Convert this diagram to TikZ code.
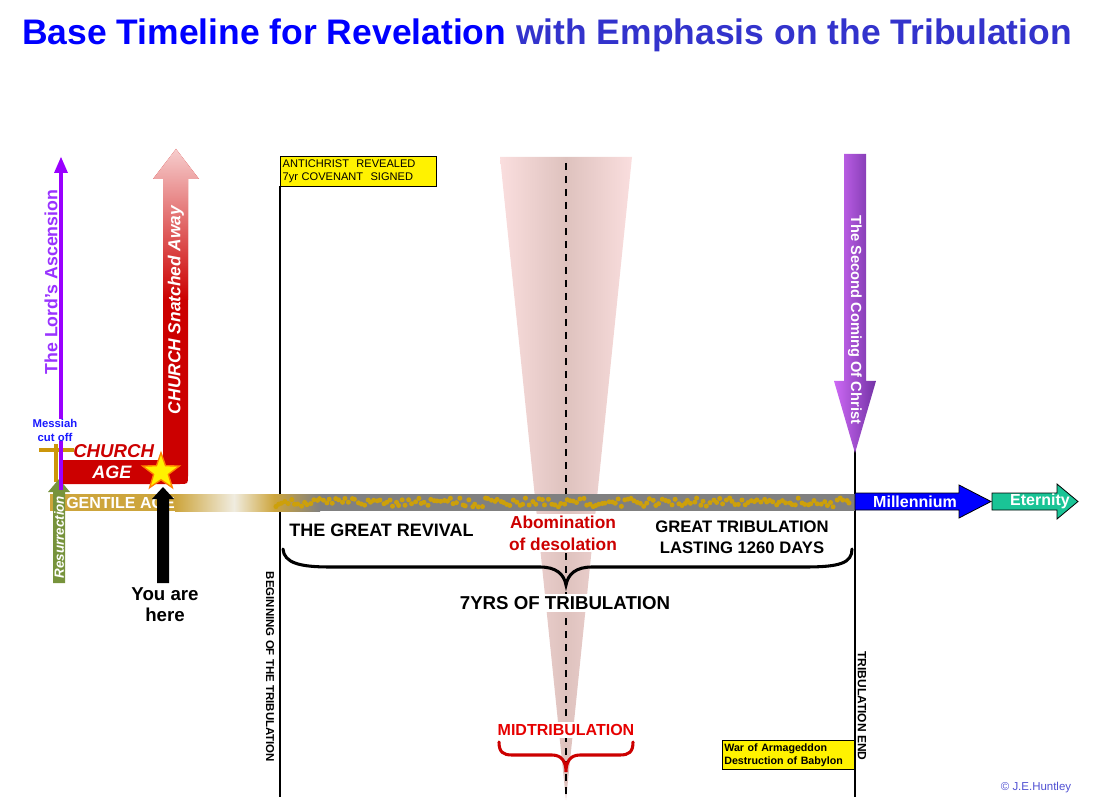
\documentclass[tikz,border=0pt]{standalone}
\usepackage{fontspec}
\setmainfont{Liberation Sans}
\usetikzlibrary{shapes.geometric}
\definecolor{titleblue}{RGB}{0,0,255}
\definecolor{titleblue2}{RGB}{51,51,204}
\definecolor{churchred}{RGB}{204,0,0}
\definecolor{churchpink}{RGB}{246,205,205}
\definecolor{gold}{RGB}{205,165,60}
\definecolor{pale}{RGB}{240,236,224}
\definecolor{bargray}{RGB}{128,128,128}
\definecolor{dotgold}{RGB}{205,160,10}
\definecolor{crossgold}{RGB}{204,150,10}
\definecolor{ascpurple}{RGB}{153,0,255}
\definecolor{asctext}{RGB}{153,51,255}
\definecolor{resgreen}{RGB}{119,147,60}
\definecolor{conepink}{RGB}{250,222,222}
\definecolor{conemid}{RGB}{222,194,190}
\definecolor{scl}{RGB}{205,105,245}
\definecolor{scr}{RGB}{115,50,165}
\definecolor{etgreen}{RGB}{26,196,150}
\definecolor{messblue}{RGB}{26,26,255}
\definecolor{abred}{RGB}{204,0,0}
\definecolor{midred}{RGB}{230,0,0}
\definecolor{copyblue}{RGB}{80,80,210}
\begin{document}
\begin{tikzpicture}[x=0.75pt,y=-0.75pt,
  lbl/.style={inner sep=0pt, align=center},
  whitebg/.style={fill=white, inner sep=1.5pt, align=center},
  ybox/.style={draw, line width=1pt, fill=yellow, inner sep=1pt, align=left},
  vline/.style={line width=1.1pt},
  bracepen/.style={line width=2.3pt, line cap=round}]
\useasboundingbox (0,0) rectangle (1093,802);

% title
\node[lbl, font=\fontsize{26.6}{30}\selectfont\bfseries] (title) at (547,35)
  {\textcolor{titleblue}{Base Timeline for Revelation} \textcolor{titleblue2}{with Emphasis on the Tribulation}};

% cone
\shade[left color=conepink, right color=conepink, middle color=conemid] (500,157) -- (632,157) -- (566,800) -- cycle;

% dashed mid line
\draw[line width=1.5pt, dash pattern=on 5.25pt off 4.5pt] (566,163) -- (566,797);

% vertical lines
\draw[vline] (280,186) -- (280,797);
\draw[vline] (855,450) -- (855,797);

% white-backed labels
\node[whitebg, text=abred, font=\fontsize{13}{16.5}\selectfont\bfseries] (abom) at (563,533) {Abomination\\of desolation};
\node[whitebg, font=\fontsize{14}{16}\selectfont\bfseries] (seven) at (565,603) {7YRS OF TRIBULATION};
\node[whitebg, text=midred, font=\fontsize{12}{14}\selectfont\bfseries] (mid) at (566,730) {MIDTRIBULATION};

% braces
\draw[bracepen] (283,549) .. controls (284,563) and (300,567) .. (330,567) -- (540,567)
  .. controls (556,567) and (564,574) .. (566,585)
  .. controls (568,574) and (576,567) .. (592,567) -- (805,567)
  .. controls (840,567) and (852,563) .. (852,549);
\draw[bracepen, churchred] (499,742) .. controls (499,752) and (503,755) .. (512,755) -- (552,755)
  .. controls (562,755) and (566,762) .. (566,772)
  .. controls (566,762) and (570,755) .. (580,755) -- (620,755)
  .. controls (629,755) and (633,752) .. (633,742);

% timeline bar
\fill[gold] (50,494) rectangle (175,511);
\shade[left color=gold, right color=pale] (175,494) rectangle (234,511);
\shade[left color=pale, right color=gold] (234,494) rectangle (274,511);
\shade[left color=gold, right color=bargray] (274,494) rectangle (320,511);
\fill[bargray] (320,494) rectangle (855,511);
\pgfmathsetseed{11}
\foreach \i in {0,...,181}{
  \pgfmathsetmacro\xx{275+3.17*\i+rnd*1.5}
  \pgfmathsetmacro\yy{498+rnd*9}
  \fill[dotgold] (\xx,\yy) circle (2.5);
}

% Millennium and Eternity
\draw[fill=blue, line width=0.6pt] (855,493) -- (959,493) -- (959,485) -- (991,501.5) -- (959,518) -- (959,510) -- (855,510) -- cycle;
\node[lbl, text=white, font=\fontsize{12}{14}\selectfont\bfseries] (mill) at (915,501.5) {Millennium};
\draw[fill=etgreen, line width=0.6pt] (992,493) -- (1057,493) -- (1057,484) -- (1078,501.5) -- (1057,519) -- (1057,510) -- (992,510) -- cycle;
\node[lbl, text=white, font=\fontsize{12}{14}\selectfont\bfseries] (eter) at (1040,501.5) {Eternity};

% Second coming
\shade[left color=scl, right color=scr] (844,154) -- (866,154) -- (866,381) -- (876,381) -- (855,453) -- (834,381) -- (844,381) -- cycle;
\node[lbl, rotate=-90, text=white, font=\fontsize{11}{12}\selectfont\bfseries] (second) at (855,320) {The Second Coming Of Christ};

% yellow boxes
\node[ybox, anchor=north west, minimum width=117pt, minimum height=22.5pt, text width=114pt,
  font=\fontsize{8.3}{9.7}\selectfont] (anti) at (280,156) {ANTICHRIST\ \ REVEALED\\7yr COVENANT\ \ SIGNED};
\node[ybox, anchor=north east, minimum width=99pt, minimum height=21.75pt, text width=96pt,
  font=\fontsize{8}{9.5}\selectfont\bfseries] (war) at (855,740) {War of Armageddon\\Destruction of Babylon};

% labels
\node[lbl, anchor=west, font=\fontsize{13.5}{16}\selectfont\bfseries] (revival) at (289,530) {THE GREAT REVIVAL};
\node[lbl, font=\fontsize{12.5}{15.75}\selectfont\bfseries] (great) at (742,537.5) {GREAT TRIBULATION\\LASTING 1260 DAYS};
\node[lbl, rotate=-90, font=\fontsize{8.6}{10}\selectfont\bfseries] (begin) at (270,667) {BEGINNING OF THE TRIBULATION};
\node[lbl, rotate=-90, font=\fontsize{9}{10}\selectfont\bfseries] (tend) at (862,706) {TRIBULATION END};
\node[lbl, text=copyblue, font=\fontsize{8.6}{10}\selectfont] (copy) at (1036,788) {© J.E.Huntley};

% left part: cross, resurrection, ascension
\draw[crossgold, line width=3pt] (39,450) -- (74,450);
\draw[crossgold, line width=3pt] (56,444) -- (56,482);
\fill[resgreen] (53,583) -- (53,492) -- (48,492) -- (59,479) -- (70,492) -- (65,492) -- (65,583) -- cycle;
\node[lbl, rotate=90, text=white, font=\fontsize{10}{12}\selectfont\bfseries\itshape] (res) at (59,537) {Resurrection};
\draw[ascpurple, line width=3pt] (61,490) -- (61,170);
\fill[ascpurple] (54,173) -- (61,157) -- (68,173) -- cycle;
\node[lbl, rotate=90, text=asctext, font=\fontsize{13.3}{16}\selectfont\bfseries] (asc) at (51,282) {The Lord’s Ascension};
\node[lbl, fill=white, text=messblue, font=\fontsize{8.5}{10.5}\selectfont\bfseries] (mess) at (55,430) {Messiah\\cut off};

% gentile age text
\node[lbl, anchor=west, text=white, font=\fontsize{12}{14}\selectfont\bfseries] (gent) at (66,502.5) {GENTILE AGE};

% church L-shape
\fill[churchred] (63,460) -- (163,460) -- (163,179) -- (153,179) -- (176,149) -- (199,179) -- (188,179) -- (188,476)
  .. controls (188,484) .. (180,484) -- (63,484) -- cycle;
\shade[top color=churchpink, bottom color=churchred] (163,300) -- (163,179) -- (153,179) -- (176,149) -- (199,179) -- (188,179) -- (188,300) -- cycle;
\node[lbl, rotate=90, text=white, font=\fontsize{13}{15}\selectfont\bfseries\itshape] (snatch) at (176,310) {CHURCH Snatched Away};
\node[lbl, anchor=west, text=churchred, font=\fontsize{14}{16}\selectfont\bfseries\itshape] (church) at (73,451) {CHURCH};
\node[lbl, text=white, font=\fontsize{13.5}{16}\selectfont\bfseries\itshape] (age) at (112,472) {AGE};

% star and you-are-here arrow
\node[star, star points=5, star point ratio=2.5, fill=yellow, draw=orange, line width=1pt, minimum size=29pt, inner sep=0pt] (star) at (161,472) {};
\fill[black] (157,583) -- (157,499) -- (152,499) -- (163,487) -- (174,499) -- (169,499) -- (169,583) -- cycle;
\node[lbl, font=\fontsize{14}{15.75}\selectfont\bfseries] (here) at (165,605) {You are\\here};
\end{tikzpicture}
\end{document}
